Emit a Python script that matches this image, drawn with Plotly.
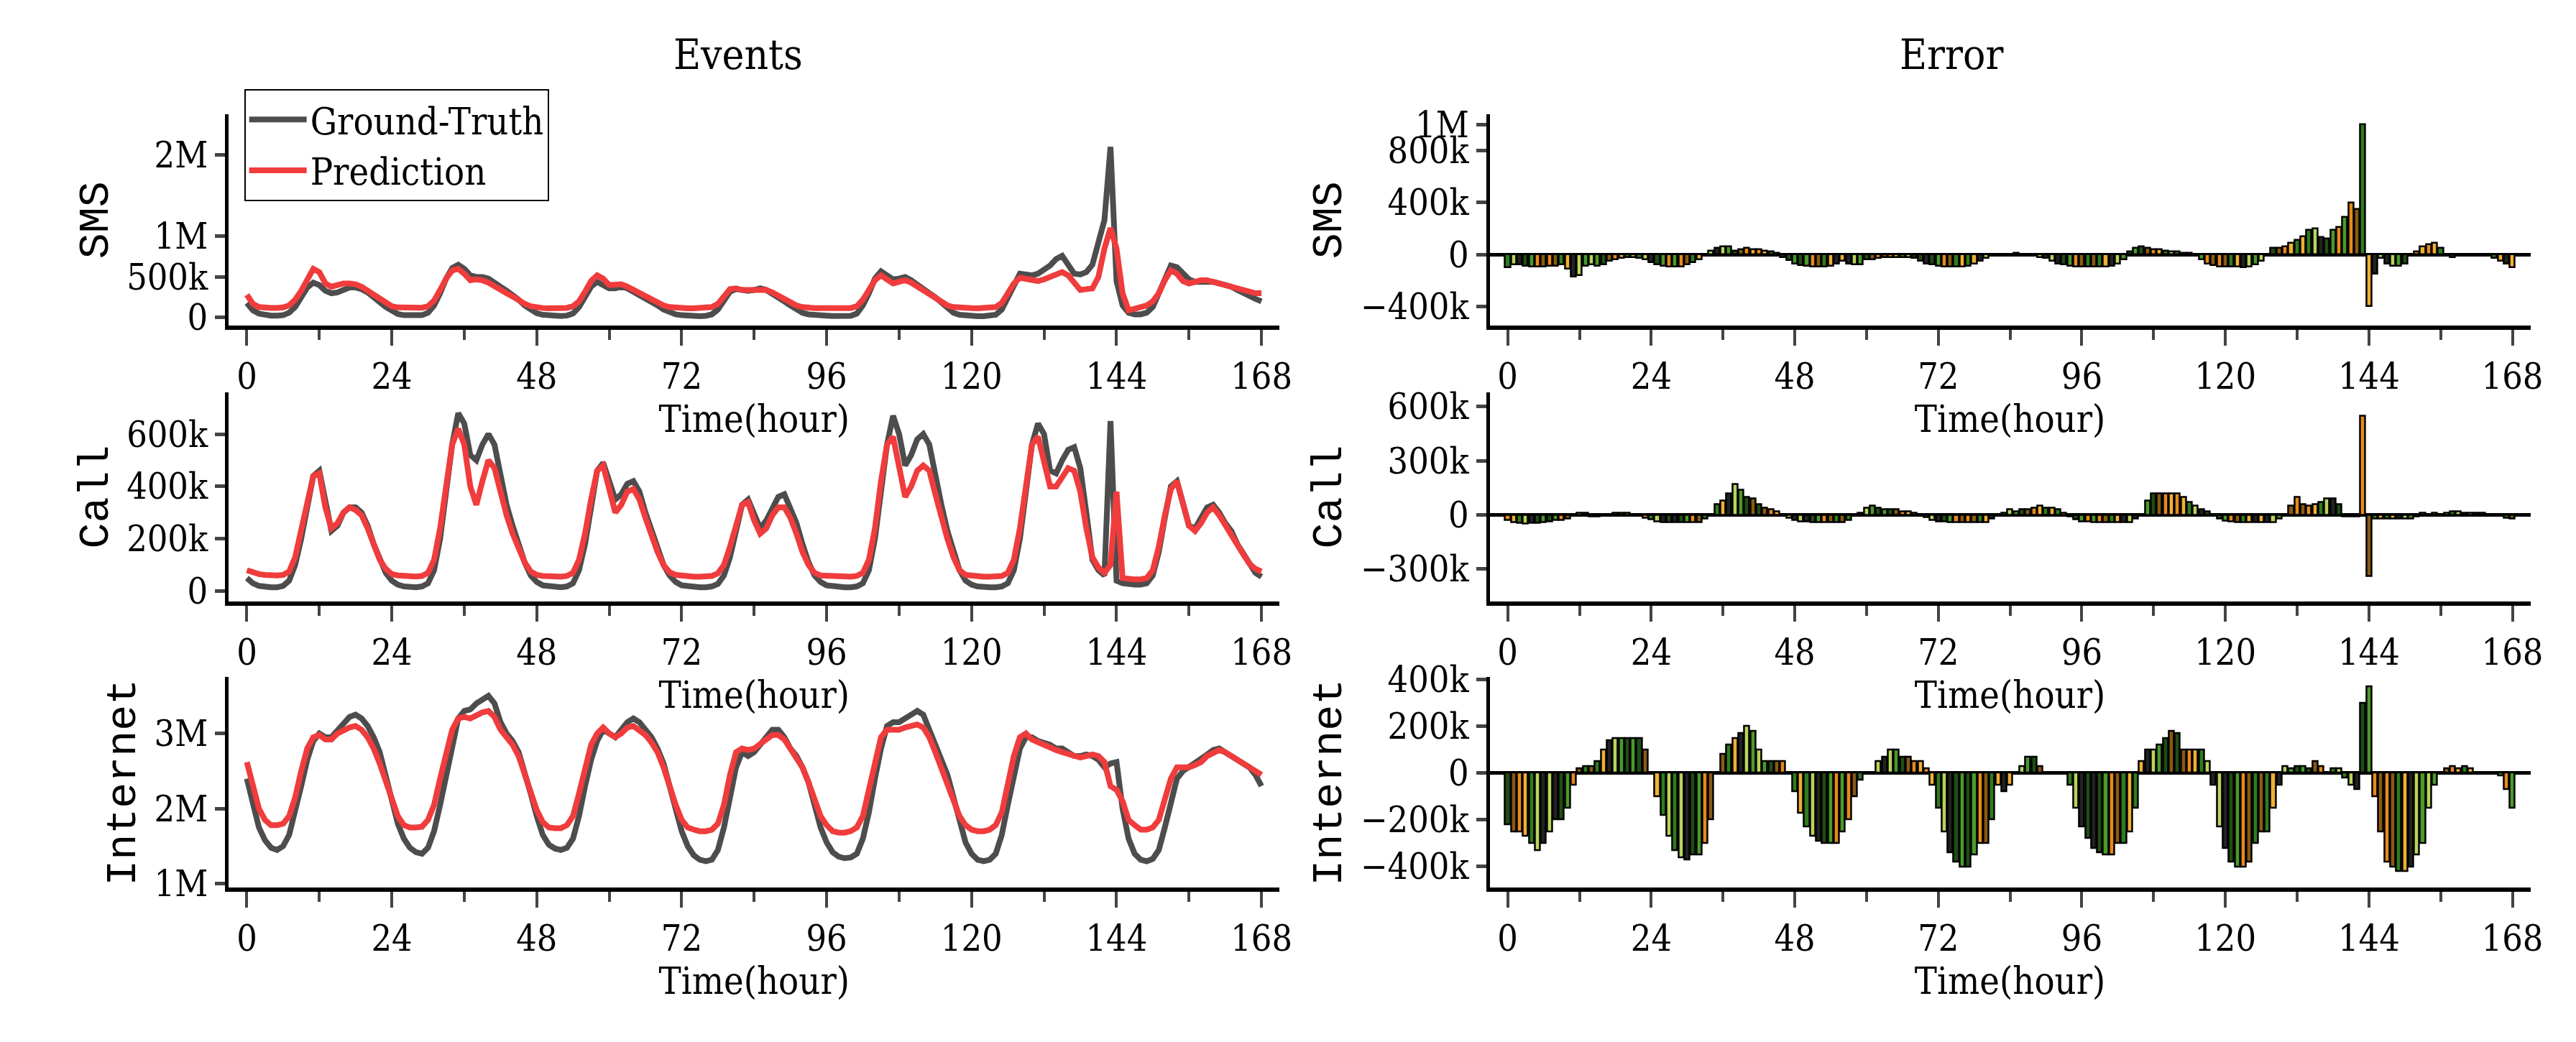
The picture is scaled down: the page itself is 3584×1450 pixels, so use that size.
import plotly.graph_objects as go
from plotly.subplots import make_subplots

hours = list(range(169))
x_ticks = [0, 24, 48, 72, 96, 120, 144, 168]

sms_gt = [180,90,50,30,25,25,30,60,130,250,370,430,400,330,300,310,340,370,370,350,310,260,190,130,
          80,45,30,25,25,30,60,150,300,480,610,650,600,520,500,500,480,420,380,330,280,220,150,95,
          55,35,25,20,20,25,50,130,270,380,440,400,360,360,380,360,320,280,240,200,150,100,60,40,
          30,22,18,18,22,40,100,220,320,350,340,330,340,360,340,300,260,200,150,100,60,40,30,25,
          25,20,18,18,22,50,150,300,480,570,520,470,480,500,460,400,350,300,250,180,110,60,35,25,
          22,18,18,20,35,100,250,420,540,530,520,540,580,640,720,760,650,540,530,560,650,900,1200,2100,
          450,150,60,40,40,60,130,300,480,640,620,540,470,440,440,450,440,420,400,380,340,300,260,230,200]
sms_pred = [280,170,130,120,120,120,125,150,220,330,480,600,560,420,380,400,420,420,410,380,330,280,220,170,
            140,125,120,118,118,122,140,210,340,480,580,600,540,460,470,460,430,380,340,300,260,210,170,140,
            125,118,115,115,115,120,140,200,320,450,520,480,400,400,410,380,340,300,260,220,180,150,130,120,
            118,115,115,115,118,130,170,270,350,360,340,340,345,350,340,310,270,220,180,150,130,120,118,118,
            118,116,115,115,118,140,220,340,460,520,460,420,440,460,430,380,330,290,240,190,150,130,120,118,
            116,115,115,118,130,180,300,420,490,480,460,450,470,500,530,560,520,420,340,350,360,500,850,1100,
            850,300,90,110,130,150,200,300,460,580,540,450,420,440,460,460,440,420,400,380,350,330,310,300,300]
call_gt = [50,30,20,15,15,15,20,40,100,200,320,440,460,330,230,250,300,320,320,300,250,180,120,70,
           40,25,18,15,15,18,30,80,200,380,560,680,640,520,500,560,600,560,430,330,250,180,110,60,
           35,22,18,15,15,18,30,80,180,320,460,490,420,350,370,410,420,380,300,230,160,100,60,35,
           22,18,15,15,15,18,28,60,130,240,330,350,300,240,270,320,360,370,320,260,180,110,60,35,
           22,18,15,15,15,18,30,80,200,400,560,670,600,480,520,580,600,560,440,330,230,150,80,40,
           25,18,15,15,15,18,30,80,200,380,560,640,600,460,450,500,540,550,470,300,120,80,60,650,
           40,30,25,25,25,30,60,150,280,400,420,340,250,240,280,320,330,300,260,230,180,140,100,70,55]
call_pred = [80,70,65,62,60,60,62,75,130,230,340,440,450,320,240,260,300,320,310,290,240,180,120,85,
             65,60,58,56,56,58,70,120,240,400,560,620,560,400,330,420,500,470,370,290,220,160,110,75,
             62,58,56,55,55,58,70,120,220,350,460,480,380,300,330,380,390,350,280,210,150,100,72,62,
             58,56,55,55,55,58,68,100,170,260,330,340,270,220,240,290,320,320,280,220,150,100,70,60,
             58,56,55,55,55,58,70,120,240,420,560,590,480,360,400,460,480,460,370,280,200,130,80,62,
             58,56,55,55,55,58,70,120,240,400,560,590,500,400,400,440,470,460,380,240,130,90,70,100,
             380,50,45,45,45,50,80,170,290,390,420,330,250,230,260,300,320,290,250,220,175,140,105,85,75]
net_gt = [2.40,2.05,1.75,1.58,1.48,1.45,1.50,1.65,1.95,2.30,2.65,2.90,3.00,2.95,2.95,3.05,3.15,3.22,3.25,3.20,3.10,2.95,2.75,2.45,
          2.10,1.80,1.60,1.48,1.42,1.40,1.48,1.70,2.05,2.45,2.85,3.20,3.30,3.32,3.40,3.45,3.50,3.40,3.15,3.00,2.90,2.75,2.50,2.20,
          1.90,1.65,1.52,1.47,1.45,1.48,1.60,1.90,2.30,2.65,2.90,3.05,3.00,2.95,3.05,3.15,3.20,3.15,3.05,2.95,2.80,2.60,2.30,2.00,
          1.70,1.50,1.38,1.32,1.30,1.32,1.45,1.75,2.15,2.55,2.75,2.70,2.75,2.85,2.95,3.05,3.05,2.95,2.80,2.70,2.55,2.35,2.05,1.75,
          1.55,1.42,1.36,1.34,1.35,1.40,1.60,1.95,2.40,2.80,3.10,3.15,3.15,3.20,3.25,3.30,3.25,3.05,2.85,2.65,2.45,2.15,1.85,1.55,
          1.40,1.32,1.30,1.32,1.40,1.65,2.05,2.45,2.80,2.95,2.95,2.90,2.88,2.85,2.80,2.80,2.75,2.70,2.70,2.72,2.70,2.65,2.55,2.60,
          2.62,2.00,1.60,1.40,1.32,1.30,1.33,1.45,1.75,2.10,2.40,2.50,2.55,2.60,2.65,2.72,2.78,2.80,2.75,2.70,2.65,2.60,2.55,2.45,2.30]
net_pred = [2.62,2.30,2.00,1.85,1.78,1.78,1.80,1.90,2.15,2.50,2.80,2.95,2.98,2.92,2.92,3.00,3.05,3.08,3.10,3.05,2.95,2.80,2.60,2.35,
            2.10,1.90,1.78,1.75,1.75,1.76,1.85,2.05,2.40,2.75,3.05,3.20,3.22,3.20,3.25,3.28,3.30,3.22,3.05,2.95,2.85,2.70,2.45,2.20,
            1.98,1.82,1.75,1.74,1.74,1.78,1.90,2.20,2.55,2.85,3.00,3.08,3.00,2.95,3.00,3.08,3.10,3.05,2.98,2.88,2.75,2.55,2.28,2.05,
            1.85,1.75,1.72,1.70,1.70,1.72,1.80,2.05,2.45,2.75,2.80,2.78,2.80,2.85,2.92,2.98,2.98,2.92,2.80,2.70,2.55,2.35,2.10,1.90,
            1.78,1.70,1.68,1.68,1.70,1.75,1.90,2.25,2.65,2.95,3.05,3.05,3.05,3.08,3.10,3.12,3.08,2.95,2.75,2.55,2.35,2.10,1.90,1.78,
            1.72,1.70,1.70,1.72,1.78,1.95,2.30,2.70,2.95,3.00,2.92,2.88,2.85,2.82,2.78,2.75,2.72,2.70,2.68,2.70,2.72,2.70,2.62,2.30,
            2.25,2.10,1.85,1.78,1.72,1.72,1.75,1.85,2.10,2.40,2.55,2.55,2.55,2.58,2.62,2.70,2.75,2.78,2.75,2.70,2.65,2.60,2.56,2.52,2.45]

bar_palette = ['#2e7d1e', '#e8891a', '#1f4d14', '#b9d45a', '#f0b030', '#8a5a10', '#4a9a2a', '#222222']

rows = [
    ("SMS", [v * 1e3 for v in sms_gt], [v * 1e3 for v in sms_pred],
     [-1e5, 2.5e6], [0, 5e5, 1e6, 2e6], ["0", "500k", "1M", "2M"],
     [-5.5e5, 1.08e6], [-4e5, 0, 4e5, 8e5, 1e6], ["\u2212400k", "0", "400k", "800k", "1M"]),
    ("Call", [v * 1e3 for v in call_gt], [v * 1e3 for v in call_pred],
     [-4e4, 7.6e5], [0, 2e5, 4e5, 6e5], ["0", "200k", "400k", "600k"],
     [-4.8e5, 6.8e5], [-3e5, 0, 3e5, 6e5], ["\u2212300k", "0", "300k", "600k"]),
    ("Internet", [v * 1e6 for v in net_gt], [v * 1e6 for v in net_pred],
     [0.95e6, 3.75e6], [1e6, 2e6, 3e6], ["1M", "2M", "3M"],
     [-4.9e5, 4.1e5], [-4e5, -2e5, 0, 2e5, 4e5], ["\u2212400k", "\u2212200k", "0", "200k", "400k"]),
]

SERIF = "DejaVu Serif Condensed"
fig = make_subplots(rows=3, cols=2)
TICKF = dict(family=SERIF, size=50, color="black")
TITLEF = dict(family="Liberation Mono", size=60, color="black")
ydoms = [[0.70, 0.91], [0.426, 0.634], [0.142, 0.351]]

for i, (name, gt, pr, yr, yt, ytt, er, et, ett) in enumerate(rows):
    r = i + 1
    fig.add_trace(go.Scatter(x=hours, y=gt, mode="lines", name="Ground-Truth",
                             line=dict(color="#4d4d4d", width=8), showlegend=(i == 0)), row=r, col=1)
    fig.add_trace(go.Scatter(x=hours, y=pr, mode="lines", name="Prediction",
                             line=dict(color="#f03c3c", width=8), showlegend=(i == 0)), row=r, col=1)
    err = [g - p for g, p in zip(gt, pr)]
    colors = [bar_palette[(h * 3 + h // 2 + h // 7 + i) % len(bar_palette)] for h in hours]
    fig.add_trace(go.Bar(x=hours, y=err, marker=dict(color=colors, line=dict(color="black", width=2.5)),
                         width=0.85, showlegend=False), row=r, col=2)
    for c, rng, tv, tt, dom in [(1, yr, yt, ytt, [0.087, 0.497]), (2, er, et, ett, [0.579, 0.985])]:
        fig.update_xaxes(row=r, col=c, domain=dom, range=[-3, 171], tickvals=x_ticks,
                         ticks="outside", ticklen=22, tickwidth=4, showline=True, linewidth=6,
                         linecolor="black", showgrid=False, zeroline=False, tickfont=TICKF,
                         minor=dict(tickvals=[12, 36, 60, 84, 108, 132, 156], ticks="outside", ticklen=14, tickwidth=4),
                         title=dict(text="Time(hour)", font=dict(family=SERIF, size=52, color="black"), standoff=2))
        fig.update_yaxes(row=r, col=c, domain=ydoms[i], range=rng, tickvals=tv, ticktext=tt,
                         ticks="outside", ticklen=14, tickwidth=5, showline=True, linewidth=5,
                         linecolor="black", showgrid=False, zeroline=(c == 2), zerolinecolor="black",
                         zerolinewidth=5, tickfont=TICKF,
                         title=dict(text=name, font=TITLEF, standoff=8))

fig.add_annotation(text="Events", x=0.26, y=0.995, xref="paper", yref="paper", showarrow=False,
                   font=dict(family=SERIF, size=58, color="black"))
fig.add_annotation(text="Error", x=0.78, y=0.995, xref="paper", yref="paper", showarrow=False,
                   font=dict(family=SERIF, size=58, color="black"))

fig.update_layout(width=3584, height=1450, plot_bgcolor="white", paper_bgcolor="white",
                  margin=dict(l=0, r=0, t=0, b=0), bargap=0,
                  legend=dict(x=0.093, y=0.935, xanchor="left", yanchor="top", bordercolor="black",
                              borderwidth=2, bgcolor="white", itemwidth=80,
                              font=dict(family=SERIF, size=52, color="black")))
fig.write_html("out.html")
